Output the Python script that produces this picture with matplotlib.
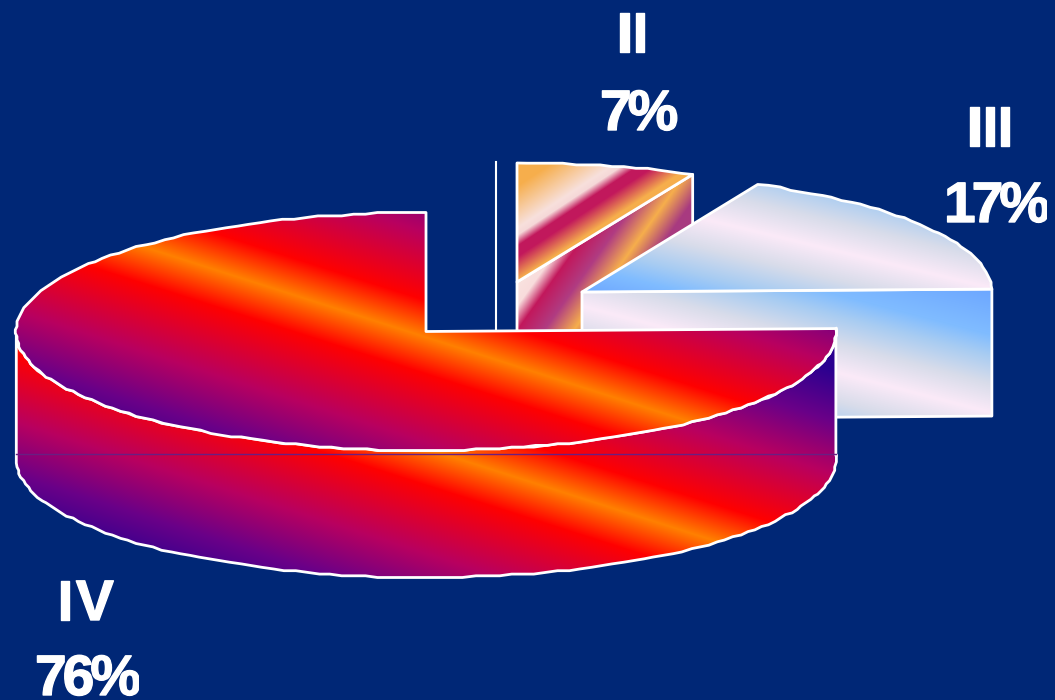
import matplotlib
matplotlib.use("Agg")
import matplotlib.pyplot as plt
import matplotlib.patheffects as pe
import matplotlib.text as mtext
from matplotlib.colors import to_rgb
from matplotlib.patches import Polygon, Rectangle
import numpy as np

# chart data
categories = ["II", "III", "IV"]
shares = [7, 17, 76]

BG = "#002776"
RX, RY, DEPTH = 410, 119, 127

# gradient stops: signed distance from a stripe line -> colour
FIRE = [(-200, "#2a0090"), (-150, "#6a0088"), (-100, "#b80060"), (-35, "#ff0000"),
        (0, "#ff8000"), (35, "#ff0000"), (100, "#b80060"), (150, "#6a0088"), (200, "#2a0090")]
ICE = [(-120, "#6ca6ff"), (-75, "#80bcff"), (-55, "#a8ccf2"), (-28, "#d8dcea"), (0, "#fbeaf8"),
       (28, "#d8dcea"), (55, "#a8ccf2"), (75, "#80bcff"), (100, "#6ca6ff")]
GOLD_TOP = [(-75, "#f6ae4c"), (-55, "#f6ae4c"), (-20, "#f8e0dc"), (-14, "#f5d8d8"), (-5, "#c2185c"),
            (4, "#c2185c"), (24, "#f6ae4c"), (40, "#f6ae4c")]
GOLD_SIDE = [(-30, "#f9e4e0"), (-14, "#f8dcdc"), (0, "#c2185c"), (22, "#b03c82"),
             (46, "#f6ae4c"), (68, "#a83a80"), (90, "#a83a80")]


def view_angle(t):
    # the radial edges lean a little in the perspective of the original
    return t - 2.2 * np.cos(np.radians(t)) ** 3


def rim_point(center, t):
    a = np.radians(view_angle(t))
    return np.array([center[0] + RX * np.cos(a), center[1] - RY * np.sin(a)])


def rim(center, t0, t1):
    # stepped outline, the original rim is a coarse polygon
    ts = np.arange(t0, t1, 1.7)
    pts = np.array([rim_point(center, t) for t in ts])
    pts = np.round(pts / 1.7) * 1.7
    return np.vstack([rim_point(center, t0), pts[1:], rim_point(center, t1)])


def fill_gradient(ax, pts, through, slope, stops, zorder, edge=2.0):
    pts = np.asarray(pts, dtype=float)
    x0, y0 = pts.min(axis=0) - 2
    x1, y1 = pts.max(axis=0) + 2
    xx, yy = np.meshgrid(np.arange(x0, x1), np.arange(y0, y1))
    nx, ny = np.array([-slope, 1.0]) / np.hypot(slope, 1.0)
    dist = (xx - through[0]) * nx + (yy - through[1]) * ny
    pos = [s[0] for s in stops]
    cols = np.array([to_rgb(s[1]) for s in stops])
    img = np.dstack([np.interp(dist, pos, cols[:, i]) for i in range(3)])
    im = ax.imshow(img, extent=(x0, x1, y1, y0), zorder=zorder, aspect="auto",
                   interpolation="bilinear")
    clip = Polygon(pts, closed=True, transform=ax.transData)
    im.set_clip_path(clip)
    ax.add_patch(Polygon(pts, closed=True, fill=False, ec="white", lw=edge,
                         joinstyle="round", zorder=zorder + 0.1))


class TightLabel(mtext.Text):
    """Bold label with the squeezed letter spacing of the original."""

    ADVANCE = {"I": 0.278, "V": 0.667, "%": 0.889}

    def __init__(self, x, y, text, tracking, **kw):
        super().__init__(x, y, text, **kw)
        self.tracking = tracking

    def draw(self, renderer):
        full = self.get_text()
        x_start = self.get_position()[0]
        em = self.get_fontsize() * 100 / 72
        x = x_start
        for ch in full:
            self.set_text(ch)
            self.set_x(x)
            super().draw(renderer)
            x += self.ADVANCE.get(ch, 0.556) * em + self.tracking
        self.set_text(full)
        self.set_x(x_start)


def put_label(ax, x, baseline, text, tracking, clip_right=None):
    t = TightLabel(x, baseline, text, tracking, color="white", fontsize=41,
                   fontweight="bold", family="Liberation Sans", ha="left",
                   va="baseline", zorder=10,
                   path_effects=[pe.withStroke(linewidth=1.0, foreground="white")])
    ax.add_artist(t)
    if clip_right is not None:
        t.set_clip_path(Rectangle((x - 5, 0), clip_right - x + 5, 700, transform=ax.transData))
        t.set_clip_on(True)


fig = plt.figure(figsize=(10.55, 7), dpi=100, facecolor=BG)
ax = fig.add_axes([0, 0, 1, 1])
ax.set_facecolor(BG)

# slice edges come from the shares, IV starts at 12 o'clock going counter-clockwise
sweep = dict(zip(categories, np.array(shares) / 100 * 360))
iv_start, iv_end = 90, 90 + sweep["IV"]
iii_start, iii_end = iv_end - 360, iv_end - 360 + sweep["III"]
ii_start, ii_end = iii_end, iii_end + sweep["II"]

c_iv = np.array([426, 331.5])
c_iii = np.array([582, 292])
c_ii = np.array([517, 282])
down = np.array([0, DEPTH])

# stray divider left of slice II
ax.plot([496, 496], [162, 331], color="white", lw=1.5, zorder=1)

# slice II
corner = rim_point(c_ii, ii_start)
fill_gradient(ax, [c_ii, corner, corner + down, c_ii + down], (519, 327), -1.4, GOLD_SIDE, 2)
fill_gradient(ax, np.vstack([[c_ii], rim(c_ii, ii_start, ii_end)]), (519, 250), -0.66, GOLD_TOP, 3)

# slice III
corner = rim_point(c_iii, iii_start)
fill_gradient(ax, [c_iii, corner, corner + down, c_iii + down], (840, 373), 0.26, ICE, 4)
fill_gradient(ax, np.vstack([[c_iii], rim(c_iii, iii_start, iii_end)]), (720, 223), 0.24, ICE, 5)

# slice IV
front = rim(c_iv, 180, iv_end)
fill_gradient(ax, np.vstack([front, (front + down)[::-1]]), (560, 492), 0.32, FIRE, 6)
ax.plot([c_iv[0] - RX, c_iv[0] + RX], [454, 454], color="#6a1e82", lw=1, zorder=6.5)
fill_gradient(ax, np.vstack([[c_iv], rim(c_iv, iv_start, iv_end)]), (300, 297), 0.32, FIRE, 7)

# labels
put_label(ax, 616.5, 52, "II", -0.5)
put_label(ax, 600, 130, "7%", -4, clip_right=678)
put_label(ax, 966.5, 146, "III", -0.5)
put_label(ax, 944, 222, "17%", -4, clip_right=1047)
put_label(ax, 57, 620, "IV", 3)
put_label(ax, 35, 695, "76%", -4, clip_right=139)

ax.set_xlim(0, 1055)
ax.set_ylim(700, 0)
ax.axis("off")
fig.savefig("out.png", dpi=100, facecolor=BG)
